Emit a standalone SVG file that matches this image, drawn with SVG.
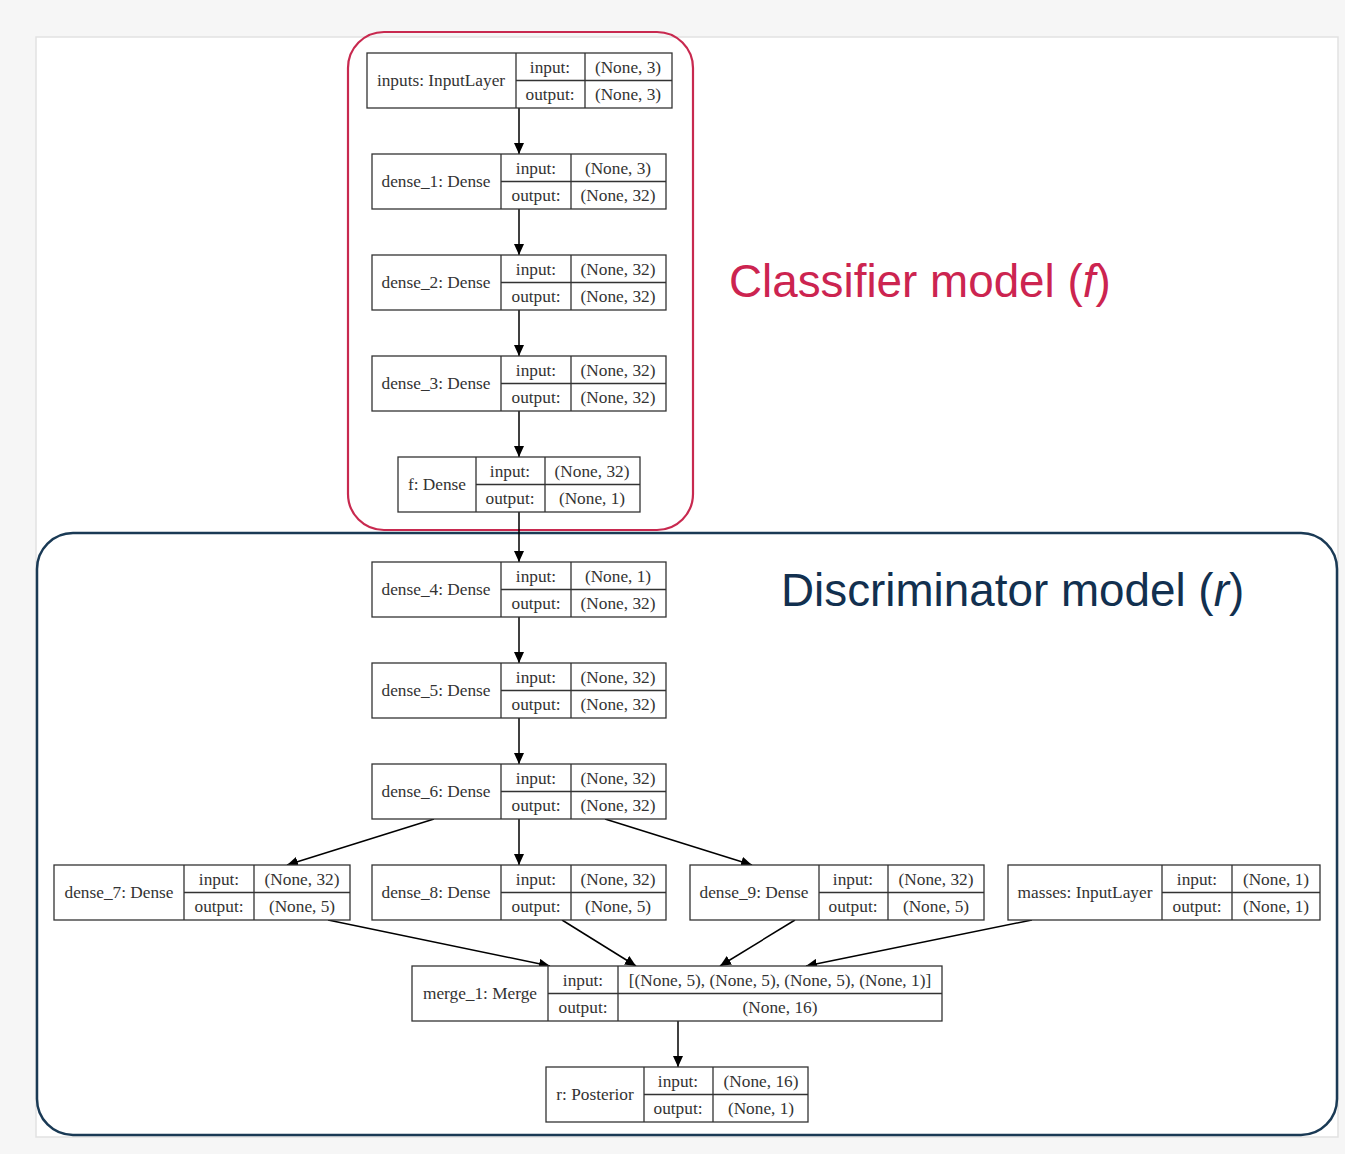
<svg xmlns="http://www.w3.org/2000/svg" width="1345" height="1154" viewBox="0 0 1345 1154">
<defs>
<marker id="arr" markerUnits="userSpaceOnUse" markerWidth="12" markerHeight="10" refX="11" refY="5" orient="auto">
<path d="M0,0 L11,5 L0,10 Z" fill="#000"/>
</marker>
<style>
.box{fill:#fff;stroke:#333;stroke-width:1.3}
.ln{stroke:#333;stroke-width:1.3;fill:none}
.t{font-family:"Liberation Serif","Times New Roman",serif;font-size:17.3px;fill:#333;text-anchor:middle;dominant-baseline:central}
.e{stroke:#000;stroke-width:1.5;fill:none;marker-end:url(#arr)}
.title{font-family:"Liberation Sans",Arial,sans-serif;font-size:45.8px}
</style>
</defs>
<rect x="0" y="0" width="1345" height="1154" fill="#f6f6f6"/>
<rect x="36" y="37" width="1302" height="1100" fill="#fff" stroke="#e2e2e2" stroke-width="1.5"/>

<rect x="348" y="32" width="345" height="498" rx="36" fill="none" stroke="#c8294f" stroke-width="2.2"/>
<rect x="37" y="533" width="1300" height="602" rx="36" fill="none" stroke="#1a3a55" stroke-width="2.5"/>
<text class="title" x="729" y="297" fill="#cc2450">Classifier model (<tspan font-style="italic">f</tspan>)</text>
<text class="title" x="781" y="606" fill="#12304f">Discriminator model (<tspan font-style="italic">r</tspan>)</text>

<g id="connectors">
<path class="e" d="M519,108 L519,154"/>
<path class="e" d="M519,209 L519,255"/>
<path class="e" d="M519,310 L519,356"/>
<path class="e" d="M519,411 L519,457"/>
<path class="e" d="M519,512 L519,562"/>
<path class="e" d="M519,617 L519,663"/>
<path class="e" d="M519,718 L519,764"/>
<path class="e" d="M434,819 L287,865"/>
<path class="e" d="M519,819 L519,865"/>
<path class="e" d="M605,819 L752,865"/>
<path class="e" d="M328,920 L550,966"/>
<path class="e" d="M562,920 L636,966"/>
<path class="e" d="M795,920 L720,966"/>
<path class="e" d="M1032,920 L806,966"/>
<path class="e" d="M678,1021 L678,1067"/>
</g>

<g id="inputs">
<rect class="box" x="367" y="53" width="305" height="55"/>
<path class="ln" d="M516,53 V108 M585,53 V108 M516,80.5 H672"/>
<text class="t" x="441" y="80.5">inputs: InputLayer</text>
<text class="t" x="550" y="67">input:</text><text class="t" x="550" y="94">output:</text>
<text class="t" x="628" y="67">(None, 3)</text><text class="t" x="628" y="94">(None, 3)</text>
</g>

<g id="dense_1">
<rect class="box" x="372" y="154" width="294" height="55"/>
<path class="ln" d="M501,154 V209 M571,154 V209 M501,181.5 H666"/>
<text class="t" x="436" y="181.5">dense_1: Dense</text>
<text class="t" x="536" y="168">input:</text><text class="t" x="536" y="195">output:</text>
<text class="t" x="618" y="168">(None, 3)</text><text class="t" x="618" y="195">(None, 32)</text>
</g>

<g id="dense_2">
<rect class="box" x="372" y="255" width="294" height="55"/>
<path class="ln" d="M501,255 V310 M571,255 V310 M501,282.5 H666"/>
<text class="t" x="436" y="282.5">dense_2: Dense</text>
<text class="t" x="536" y="269">input:</text><text class="t" x="536" y="296">output:</text>
<text class="t" x="618" y="269">(None, 32)</text><text class="t" x="618" y="296">(None, 32)</text>
</g>

<g id="dense_3">
<rect class="box" x="372" y="356" width="294" height="55"/>
<path class="ln" d="M501,356 V411 M571,356 V411 M501,383.5 H666"/>
<text class="t" x="436" y="383.5">dense_3: Dense</text>
<text class="t" x="536" y="370">input:</text><text class="t" x="536" y="397">output:</text>
<text class="t" x="618" y="370">(None, 32)</text><text class="t" x="618" y="397">(None, 32)</text>
</g>

<g id="f">
<rect class="box" x="398" y="457" width="242" height="55"/>
<path class="ln" d="M476,457 V512 M545,457 V512 M476,484.5 H640"/>
<text class="t" x="437" y="484.5">f: Dense</text>
<text class="t" x="510" y="471">input:</text><text class="t" x="510" y="498">output:</text>
<text class="t" x="592" y="471">(None, 32)</text><text class="t" x="592" y="498">(None, 1)</text>
</g>

<g id="dense_4">
<rect class="box" x="372" y="562" width="294" height="55"/>
<path class="ln" d="M501,562 V617 M571,562 V617 M501,589.5 H666"/>
<text class="t" x="436" y="589.5">dense_4: Dense</text>
<text class="t" x="536" y="576">input:</text><text class="t" x="536" y="603">output:</text>
<text class="t" x="618" y="576">(None, 1)</text><text class="t" x="618" y="603">(None, 32)</text>
</g>

<g id="dense_5">
<rect class="box" x="372" y="663" width="294" height="55"/>
<path class="ln" d="M501,663 V718 M571,663 V718 M501,690.5 H666"/>
<text class="t" x="436" y="690.5">dense_5: Dense</text>
<text class="t" x="536" y="677">input:</text><text class="t" x="536" y="704">output:</text>
<text class="t" x="618" y="677">(None, 32)</text><text class="t" x="618" y="704">(None, 32)</text>
</g>

<g id="dense_6">
<rect class="box" x="372" y="764" width="294" height="55"/>
<path class="ln" d="M501,764 V819 M571,764 V819 M501,791.5 H666"/>
<text class="t" x="436" y="791.5">dense_6: Dense</text>
<text class="t" x="536" y="778">input:</text><text class="t" x="536" y="805">output:</text>
<text class="t" x="618" y="778">(None, 32)</text><text class="t" x="618" y="805">(None, 32)</text>
</g>

<g id="dense_7">
<rect class="box" x="54" y="865" width="296" height="55"/>
<path class="ln" d="M184,865 V920 M254,865 V920 M184,892.5 H350"/>
<text class="t" x="119" y="892.5">dense_7: Dense</text>
<text class="t" x="219" y="879">input:</text><text class="t" x="219" y="906">output:</text>
<text class="t" x="302" y="879">(None, 32)</text><text class="t" x="302" y="906">(None, 5)</text>
</g>

<g id="dense_8">
<rect class="box" x="372" y="865" width="294" height="55"/>
<path class="ln" d="M501,865 V920 M571,865 V920 M501,892.5 H666"/>
<text class="t" x="436" y="892.5">dense_8: Dense</text>
<text class="t" x="536" y="879">input:</text><text class="t" x="536" y="906">output:</text>
<text class="t" x="618" y="879">(None, 32)</text><text class="t" x="618" y="906">(None, 5)</text>
</g>

<g id="dense_9">
<rect class="box" x="690" y="865" width="294" height="55"/>
<path class="ln" d="M819,865 V920 M888,865 V920 M819,892.5 H984"/>
<text class="t" x="754" y="892.5">dense_9: Dense</text>
<text class="t" x="853" y="879">input:</text><text class="t" x="853" y="906">output:</text>
<text class="t" x="936" y="879">(None, 32)</text><text class="t" x="936" y="906">(None, 5)</text>
</g>

<g id="masses">
<rect class="box" x="1008" y="865" width="312" height="55"/>
<path class="ln" d="M1162,865 V920 M1232,865 V920 M1162,892.5 H1320"/>
<text class="t" x="1085" y="892.5">masses: InputLayer</text>
<text class="t" x="1197" y="879">input:</text><text class="t" x="1197" y="906">output:</text>
<text class="t" x="1276" y="879">(None, 1)</text><text class="t" x="1276" y="906">(None, 1)</text>
</g>

<g id="merge_1">
<rect class="box" x="412" y="966" width="530" height="55"/>
<path class="ln" d="M548,966 V1021 M618,966 V1021 M548,993.5 H942"/>
<text class="t" x="480" y="993.5">merge_1: Merge</text>
<text class="t" x="583" y="980">input:</text><text class="t" x="583" y="1007">output:</text>
<text class="t" x="780" y="980">[(None, 5), (None, 5), (None, 5), (None, 1)]</text>
<text class="t" x="780" y="1007">(None, 16)</text>
</g>

<g id="r">
<rect class="box" x="546" y="1067" width="262" height="55"/>
<path class="ln" d="M644,1067 V1122 M713,1067 V1122 M644,1094.5 H808"/>
<text class="t" x="595" y="1094.5">r: Posterior</text>
<text class="t" x="678" y="1081">input:</text><text class="t" x="678" y="1108">output:</text>
<text class="t" x="761" y="1081">(None, 16)</text><text class="t" x="761" y="1108">(None, 1)</text>
</g>
</svg>
